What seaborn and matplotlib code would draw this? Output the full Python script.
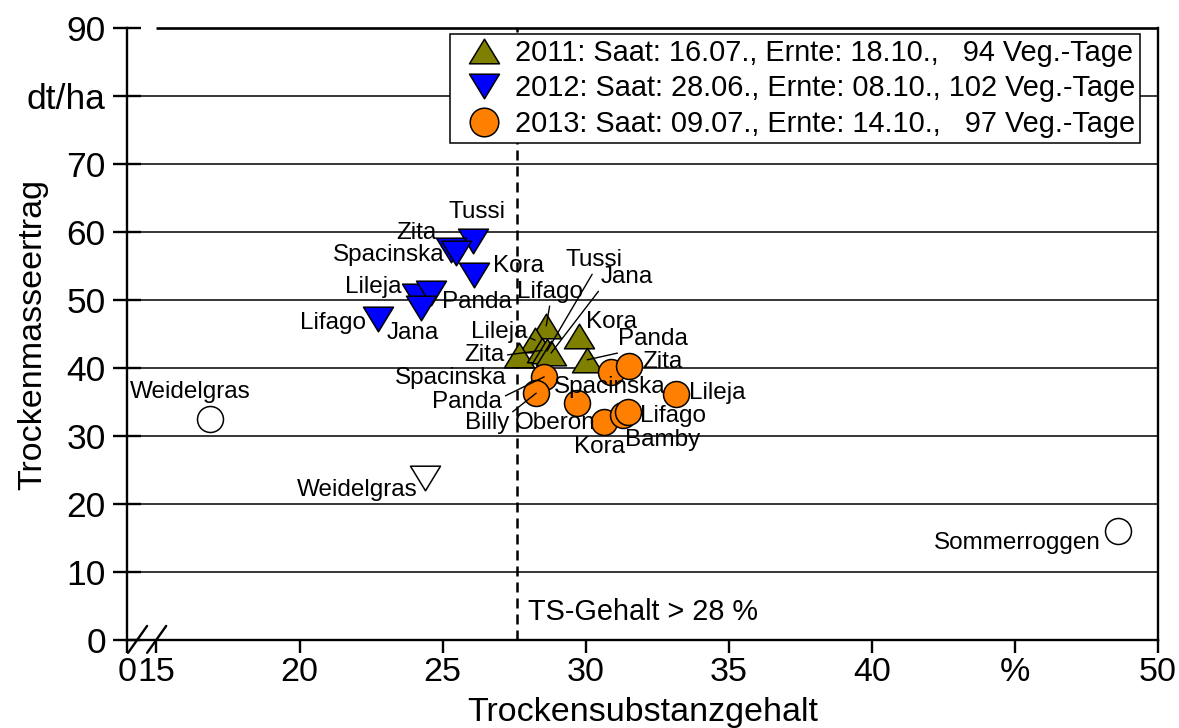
import matplotlib
matplotlib.use("Agg")
import matplotlib.pyplot as plt
import numpy as np
import pandas as pd
import seaborn as sns
from matplotlib.path import Path
from matplotlib.lines import Line2D

# ---- data: Trockensubstanzgehalt (%) und Trockenmasseertrag (dt/ha) ----
sorten_2011 = ["Lifago", "Lileja", "Spacinska", "Zita", "Tussi", "Jana", "Kora", "Panda"]
ts_2011 = [28.62, 28.23, 27.67, 28.48, 28.65, 28.79, 29.77, 30.05]
tm_2011 = [46.2, 44.1, 41.9, 42.6, 42.5, 42.2, 44.7, 41.2]

sorten_2012 = ["Tussi", "Zita", "Spacinska", "Kora", "Lileja", "Panda", "Jana", "Lifago"]
ts_2012 = [26.07, 25.30, 25.48, 26.09, 24.12, 24.60, 24.26, 22.75]
tm_2012 = [58.7, 57.4, 56.9, 53.7, 50.6, 51.0, 48.8, 47.2]

sorten_2013 = ["Panda", "Billy", "Oberon", "Spacinska", "Zita", "Lileja", "Kora", "Lifago", "Bamby"]
ts_2013 = [28.55, 28.27, 29.70, 30.88, 31.51, 33.15, 30.64, 31.30, 31.48]
tm_2013 = [38.7, 36.3, 34.85, 39.4, 40.3, 36.2, 32.1, 33.1, 33.5]

# Vergleichsarten (offene Symbole)
vergleich_namen = ["Weidelgras", "Weidelgras", "Sommerroggen"]
vergleich_jahr = [2012, 2013, 2013]
vergleich_ts = [24.4, 16.86, 48.6]
vergleich_tm = [23.8, 32.5, 16.0]

legend_labels = [
    "2011: Saat: 16.07., Ernte: 18.10.,   94 Veg.-Tage",
    "2012: Saat: 28.06., Ernte: 08.10., 102 Veg.-Tage",
    "2013: Saat: 09.07., Ernte: 14.10.,   97 Veg.-Tage",
]
ts_grenze = 27.6
x_ticks = [15, 20, 25, 30, 35, 40, 45, 50]
x_ticklabels = ["15", "20", "25", "30", "35", "40", "%", "50"]
y_ticks = [0, 10, 20, 30, 40, 50, 60, 70, 80, 90]
y_ticklabels = ["0", "10", "20", "30", "40", "50", "60", "70", "dt/ha", "90"]

# ---- style ----
sns.set_theme(style="white")
plt.rcParams["font.family"] = ["Liberation Sans", "DejaVu Sans"]
plt.rcParams["text.color"] = "black"
plt.rcParams["axes.labelcolor"] = "black"

farben = {2011: "#808000", 2012: "#0000ff", 2013: "#ff8000"}
tri_up = Path([(0, 0.82), (-1, -0.82), (1, -0.82), (0, 0.82)],
              [Path.MOVETO, Path.LINETO, Path.LINETO, Path.CLOSEPOLY])
tri_down = Path([(0, -0.82), (-1, 0.82), (1, 0.82), (0, -0.82)],
                [Path.MOVETO, Path.LINETO, Path.LINETO, Path.CLOSEPOLY])
marker = {2011: tri_up, 2012: tri_down, 2013: "o"}
msize = {2011: 21.6, 2012: 21.6, 2013: 18.7}
lab_fs = 17.5

# label placement: (dx px, dy px, ha, leader relpos or None)
lab = {
    (2012, "Tussi"): (4, 29, "center", None),
    (2012, "Zita"): (-15, 17, "right", None),
    (2012, "Spacinska"): (-12, -2, "right", None),
    (2012, "Kora"): (19, 9, "left", None),
    (2012, "Lileja"): (-16, 9, "right", None),
    (2012, "Panda"): (11, -9, "left", None),
    (2012, "Jana"): (-9, -25, "center", None),
    (2012, "Lifago"): (-12, -4, "right", None),
    (2011, "Lifago"): (4, 34, "center", (0.5, 0.0)),
    (2011, "Lileja"): (-8, 8, "right", (1.0, 0.3)),
    (2011, "Zita"): (-38, -5, "right", (1.0, 0.5)),
    (2011, "Spacinska"): (-12, -23, "right", None),
    (2011, "Tussi"): (47, 91, "center", (0.5, 0.0)),
    (2011, "Jana"): (76, 76, "center", (0.0, 0.0)),
    (2011, "Kora"): (7, 14, "left", None),
    (2011, "Panda"): (66, 21, "center", (0.2, 0.0)),
    (2013, "Panda"): (-77, -25, "center", (1.0, 0.7)),
    (2013, "Billy"): (-49, -30, "center", (1.0, 0.9)),
    (2013, "Oberon"): (-22, -20, "center", None),
    (2013, "Spacinska"): (-1, -15, "center", None),
    (2013, "Zita"): (13, 4, "left", None),
    (2013, "Lileja"): (13, 1, "left", None),
    (2013, "Kora"): (-5, -25, "center", None),
    (2013, "Lifago"): (17, -1, "left", None),
    (2013, "Bamby"): (35, -28, "center", None),
}
lab_vergleich = [(-8, -12, "right"), (-19, 27, "center"), (-17, -12, "right")]

fig = plt.figure(figsize=(11.79, 7.28), dpi=100)
W, H = 1179, 728
ax = fig.add_axes([127 / W, (H - 640) / H, (1158 - 127) / W, (640 - 28) / H])
ax.set_xlim(13.97, 50)
ax.set_ylim(0, 90)

# horizontal grid
for v in y_ticks[1:-1]:
    ax.axhline(v, color="black", lw=1.1, zorder=1)

# TS limit
ax.axvline(ts_grenze, color="black", lw=1.8, ls=(0, (4, 2.4)), zorder=1)
ax.annotate("TS-Gehalt > 28 %", xy=(ts_grenze, 0), xytext=(11, 28),
            textcoords="offset pixels", ha="left", va="center", fontsize=20.8)

jahre = {
    2012: (sorten_2012, ts_2012, tm_2012),
    2011: (sorten_2011, ts_2011, tm_2011),
    2013: (sorten_2013, ts_2013, tm_2013),
}
for jahr, (namen, xs, ys) in jahre.items():
    df = pd.DataFrame({"Sorte": namen, "TS": xs, "TM": ys})
    sns.scatterplot(data=df, x="TS", y="TM", ax=ax, marker=marker[jahr],
                    s=msize[jahr] ** 2, color=farben[jahr], edgecolor="black",
                    linewidth=1.1, legend=False, zorder=3)
    for n, x, y in zip(namen, xs, ys):
        dx, dy, ha, rel = lab[(jahr, n)]
        kw = {}
        if rel is not None:
            kw["arrowprops"] = dict(arrowstyle="-", lw=1.0, color="black",
                                    shrinkA=0, shrinkB=0, relpos=rel)
        ax.annotate(n, xy=(x, y), xytext=(dx, dy), textcoords="offset pixels",
                    ha=ha, va="center", fontsize=lab_fs, zorder=4, **kw)

dfv = pd.DataFrame({"Art": vergleich_namen, "Jahr": vergleich_jahr,
                    "TS": vergleich_ts, "TM": vergleich_tm})
for (n, j, x, y), (dx, dy, ha) in zip(dfv.itertuples(index=False), lab_vergleich):
    sns.scatterplot(x=[x], y=[y], ax=ax, marker=marker[j], s=msize[j] ** 2,
                    color="white", edgecolor="black", linewidth=1.1,
                    legend=False, zorder=3)
    ax.annotate(n, xy=(x, y), xytext=(dx, dy), textcoords="offset pixels",
                ha=ha, va="center", fontsize=lab_fs)

# axes frame
for side in ["left", "bottom", "right"]:
    ax.spines[side].set_color("black")
    ax.spines[side].set_linewidth(1.7)
ax.spines["top"].set_visible(False)
ax.plot([15, 50], [90, 90], color="black", lw=1.9, clip_on=False, zorder=5,
        solid_capstyle="butt")

# axis break marks
for x0 in (0.001, 0.0195):
    ax.plot([x0, x0 + 0.0185], [-0.021, 0.023], transform=ax.transAxes,
            color="black", lw=1.7, clip_on=False)

ax.set_xticks([13.97] + x_ticks, ["0"] + x_ticklabels)
ax.set_yticks(y_ticks, y_ticklabels)
ax.tick_params(axis="x", direction="out", length=9.4, width=1.7, pad=3,
               labelsize=24.5, colors="black", bottom=True)
ax.tick_params(axis="y", direction="inout", length=19.5, width=1.7, pad=5.5,
               labelsize=25.5, colors="black", left=True)
ax.set_xlabel("Trockensubstanzgehalt", fontsize=24.5, labelpad=6.5)
ax.set_ylabel("Trockenmasseertrag", fontsize=24.5)
ax.yaxis.set_label_coords(-0.0766, 0.5)

handles = [Line2D([], [], ls="", marker=marker[j],
                  markersize=msize[j] * (1 if j != 2013 else 1.1),
                  markerfacecolor=farben[j], markeredgecolor="black",
                  markeredgewidth=1.1)
           for j in (2011, 2012, 2013)]
leg = ax.legend(handles, legend_labels, loc="upper right",
                bbox_to_anchor=(1 - 18 / 1031, 1 - 6 / 612), fontsize=20.8,
                frameon=True, fancybox=False, framealpha=1, edgecolor="black",
                borderpad=0.18, labelspacing=0.25, handlelength=2.0,
                handletextpad=0.05, borderaxespad=0)
leg.get_frame().set_linewidth(1.1)
leg.set_zorder(6)

fig.savefig("out.png", dpi=100)
